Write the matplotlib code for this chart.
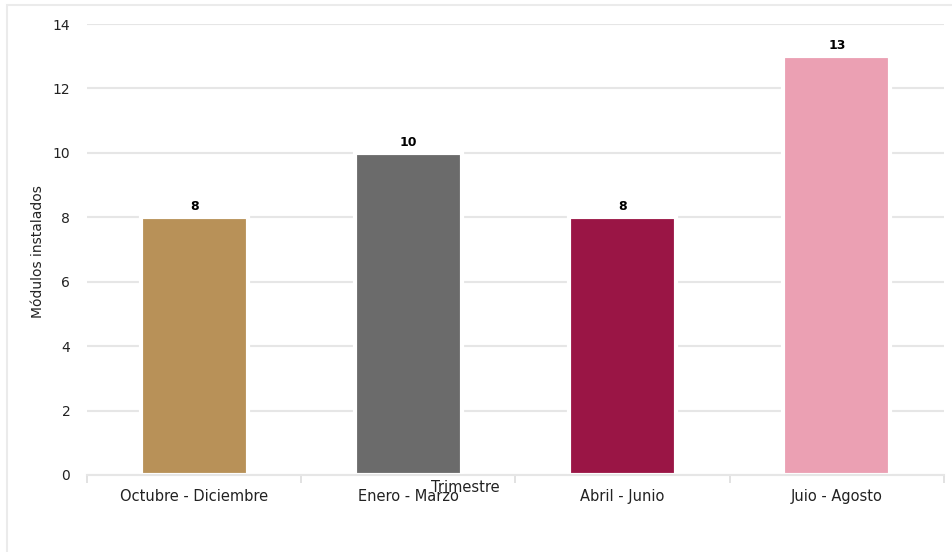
import matplotlib.pyplot as plt
from matplotlib.patches import Rectangle

categories = ['Octubre - Diciembre', 'Enero - Marzo', 'Abril - Junio', 'Juio - Agosto']
values = [8, 10, 8, 13]
colors = ['#B89158', '#6B6B6B', '#9A1545', '#EBA0B3']

plt.rcParams['font.family'] = ['DejaVu Sans']

fig = plt.figure(figsize=(9.53, 5.52), dpi=100)
ax = fig.add_axes([87 / 953, 1 - 475 / 552, (944 - 87) / 953, (475 - 24) / 552])

# light frame round the whole chart
fig.patches.append(Rectangle((7 / 953, -0.1), 1.1, 1 - 5 / 552 + 0.1, transform=fig.transFigure,
                             fill=False, edgecolor='#EBEBEB', linewidth=1.5))

x = range(len(categories))
bars = ax.bar(x, values, width=0.5, color=colors, edgecolor='white', linewidth=3, zorder=2)
for b, v in zip(bars, values):
    ax.text(b.get_x() + b.get_width() / 2, v + 0.12, str(v), ha='center', va='bottom',
            fontsize=9, fontweight='bold', color='black')

ax.set_xlim(-0.5, 3.5)
ax.set_ylim(0, 14)
ax.set_yticks(range(0, 15, 2))
ax.yaxis.grid(True, color='#E6E6E6', linewidth=1.5, zorder=0)
ax.set_axisbelow(True)

ax.set_xticks(x)
ax.set_xticklabels(categories, fontsize=10.5, color='#222222')
ax.tick_params(axis='x', length=0, pad=10)
ax.set_xticks([-0.5, 0.5, 1.5, 2.5, 3.5], minor=True)
ax.tick_params(axis='x', which='minor', length=6, color='#DDDDDD', width=1.2)
ax.tick_params(axis='y', length=0, pad=12, labelsize=10, labelcolor='#222222')

for s in ['top', 'right', 'left']:
    ax.spines[s].set_visible(False)
ax.spines['bottom'].set_color('#E6E6E6')
ax.spines['bottom'].set_linewidth(1.5)

fig.text(465 / 953, 1 - 487 / 552, 'Trimestre', ha='center', va='center', fontsize=10.5, color='#222222')
fig.text(38 / 953, 1 - 252 / 552, 'Módulos instalados', rotation=90, ha='center', va='center',
         fontsize=10, color='#222222')

fig.savefig('out.png', dpi=100)
